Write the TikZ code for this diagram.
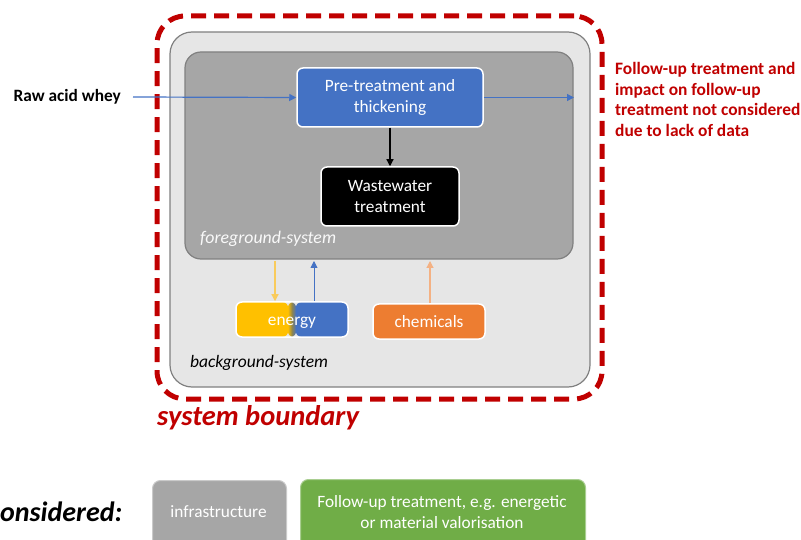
\documentclass[tikz,border=0pt]{standalone}
\usepackage{fontspec}
\setmainfont{Carlito}
\usetikzlibrary{arrows.meta}
\definecolor{cblue}{HTML}{4472C4}
\definecolor{cyellow}{HTML}{FFC000}
\definecolor{corange}{HTML}{ED7D31}
\definecolor{cred}{HTML}{C00000}
\definecolor{cgreen}{HTML}{70AD47}
\definecolor{cdgray}{HTML}{A6A6A6}
\definecolor{clgray}{HTML}{E6E6E6}
\definecolor{cborder}{HTML}{808080}
\definecolor{clyellow}{HTML}{F9CB5C}
\definecolor{clorange}{HTML}{F4B183}
\definecolor{cmid}{HTML}{8C8450}
\tikzset{
  procbox/.style={draw=white, line width=1.5pt, rounded corners=6pt, text=white, align=center,
    font=\fontsize{17.3}{21}\selectfont, inner sep=0pt},
  arr/.style={line width=1.2pt, -{Triangle[length=7pt,width=7pt]}},
  legendbox/.style={draw=#1!60!white, line width=1pt, rounded corners=8pt, text=white, align=center,
    font=\fontsize{17.3}{21}\selectfont, inner sep=0pt}
}
\begin{document}
\begin{tikzpicture}[x=1pt,y=-1pt]
\useasboundingbox (0,0) rectangle (801,540);
\clip (0,0) rectangle (801,540);
% system boundary
\node[draw=cred, line width=5pt, dash pattern=on 15pt off 8pt, rounded corners=28pt,
  minimum width=445pt, minimum height=383pt, inner sep=0pt] (bound) at (379.5,207.5) {};
% background system
\node[draw=cborder, fill=clgray, line width=1.2pt, rounded corners=22pt,
  minimum width=420pt, minimum height=355pt, inner sep=0pt] (bg) at (380,209.5) {};
% foreground system
\node[draw=cborder, fill=cdgray, line width=1.2pt, rounded corners=16pt,
  minimum width=388pt, minimum height=207pt, inner sep=0pt] (fg) at (379,155.5) {};
% process boxes
\node[procbox, fill=cblue, minimum width=186pt, minimum height=59pt] (pre) at (390,97.5)
  {Pre-treatment and\\thickening};
\node[procbox, fill=black, minimum width=138pt, minimum height=59pt] (ww) at (390,196.5)
  {Wastewater\\treatment};
\node[procbox, minimum width=112pt, minimum height=35pt, text height=14pt, text depth=2pt,
  path picture={
    \fill[cyellow] (path picture bounding box.north west) rectangle ([xshift=-3.8pt]path picture bounding box.south);
    \shade[left color=cyellow, right color=cblue, middle color=cmid] ([xshift=-4.2pt]path picture bounding box.north) rectangle ([xshift=4.2pt]path picture bounding box.south);
    \fill[cblue] ([xshift=3.8pt]path picture bounding box.north) rectangle (path picture bounding box.south east);
  }] (en) at (292,319.5) {energy};
\node[procbox, fill=corange, minimum width=112pt, minimum height=35pt, text height=14pt, text depth=2pt] (chem) at (429,321.5) {chemicals};
% labels
\node[anchor=west, inner sep=0pt, text=white!95!gray, font=\fontsize{17.8}{21}\selectfont\itshape] (fglab) at (200,239) {foreground-system};
\node[anchor=west, inner sep=0pt, font=\fontsize{17.5}{21}\selectfont\itshape] (bglab) at (190,363) {background-system};
\node[anchor=west, inner sep=0pt, text=cred, font=\fontsize{28.5}{32}\selectfont\bfseries\itshape] (sblab) at (157,418) {system boundary};
\node[anchor=east, inner sep=0pt, font=\fontsize{17.3}{21}\selectfont\bfseries] (raw) at (121,97) {Raw acid whey};
\node[anchor=north west, inner sep=0pt, align=left, text=cred,
  font=\fontsize{17.4}{20.7}\selectfont\bfseries] (note) at (615,62)
  {Follow-up treatment and\\impact on follow-up\\treatment not considered\\due to lack of data};
% connectors
\coordinate (outend) at (574,97.5);
\draw[arr, cblue] ([xshift=12pt]raw.east) -- (pre.west);
\draw[arr, cblue] (pre.east) -- (outend);
\draw[arr, black] (pre.south) -- (ww.north);
\coordinate (yt) at (275,261);
\coordinate (bt) at (314,261);
\coordinate (ot) at (430,261);
\draw[arr, clyellow] (yt) -- (yt |- en.north);
\draw[arr, cblue, line width=0.9pt] (bt |- en.north) -- (bt);
\draw[arr, clorange] (ot |- chem.north) -- (ot);
% legend
\node[anchor=west, inner sep=0pt, font=\fontsize{28}{32}\selectfont\bfseries\itshape] (nc) at (0,512) {onsidered:};
\node[legendbox=cdgray, fill=cdgray, minimum width=134pt, minimum height=70pt, anchor=north west] (infra) at (152,480) {};
\node[text=white, font=\fontsize{17.3}{21}\selectfont, inner sep=0pt] (infratext) at (218.5,512) {infrastructure};
\node[legendbox=cgreen, fill=cgreen, minimum width=285pt, minimum height=70pt, anchor=north west] (fu) at (300,479) {};
\node[text=white, align=center, font=\fontsize{17.3}{21}\selectfont, inner sep=0pt] (futext) at (442,512) {Follow-up treatment, e.g. energetic\\or material valorisation};
\end{tikzpicture}
\end{document}
